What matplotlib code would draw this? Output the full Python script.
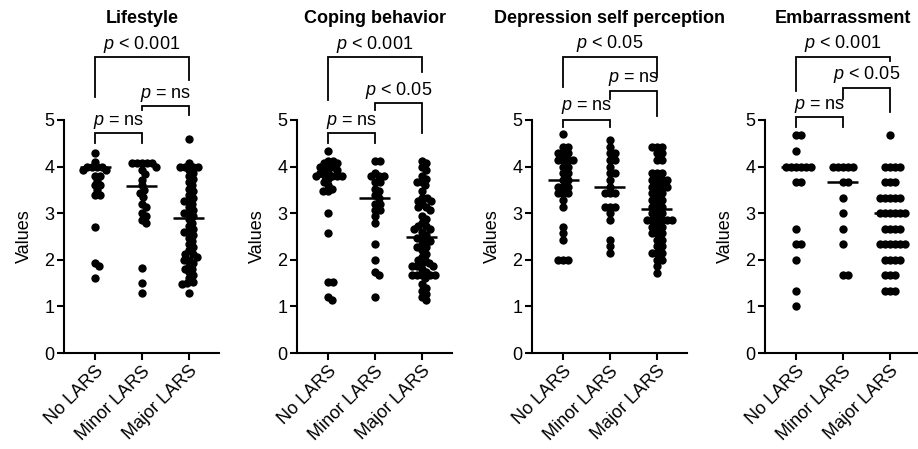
import matplotlib
matplotlib.use('Agg')
import matplotlib.pyplot as plt
import numpy as np

plt.rcParams['font.family'] = ['Liberation Sans', 'DejaVu Sans']
plt.rcParams['mathtext.fontset'] = 'custom'
plt.rcParams['mathtext.rm'] = 'Liberation Sans'
plt.rcParams['mathtext.it'] = 'Liberation Sans:italic'

groups = ['No LARS', 'Minor LARS', 'Major LARS']
titles = ['Lifestyle', 'Coping behavior', 'Depression self perception', 'Embarrassment']

# values
lifestyleNo = [4.3, 4.1, 4.0, 4.0, 4.0, 4.0, 3.93, 3.93, 3.8, 3.8, 3.7, 3.6, 3.6, 3.5, 3.4, 3.4,
               2.7, 1.93, 1.87, 1.6]
lifestyleMinor = [4.07, 4.07, 4.07, 4.07, 4.07, 4.0, 3.93, 3.85, 3.71, 3.6, 3.5, 3.43, 3.35, 3.2,
                  3.13, 3.0, 2.93, 2.85, 2.78, 1.82, 1.5, 1.29]
lifestyleMajor = [4.6, 4.07, 4.0, 4.0, 4.0, 4.0, 3.93, 3.87, 3.8, 3.73, 3.67, 3.6, 3.53, 3.47, 3.4,
                  3.33, 3.27, 3.27, 3.2, 3.13, 3.07, 3.0, 3.0, 2.93, 2.87, 2.8, 2.73, 2.67, 2.6,
                  2.6, 2.53, 2.47, 2.4, 2.33, 2.27, 2.2, 2.13, 2.13, 2.07, 2.0, 2.0, 1.93, 1.87,
                  1.8, 1.8, 1.73, 1.67, 1.6, 1.53, 1.5, 1.47, 1.29]

copingNo = [4.33, 4.13, 4.13, 4.07, 4.07, 4.0, 4.0, 4.0, 3.93, 3.93, 3.87, 3.87, 3.8, 3.8, 3.8,
            3.8, 3.8, 3.73, 3.67, 3.6, 3.53, 3.47, 3.47, 3.0, 2.57, 1.53, 1.53, 1.2, 1.13]
copingMinor = [4.13, 4.13, 3.87, 3.8, 3.8, 3.8, 3.67, 3.67, 3.53, 3.47, 3.4, 3.33, 3.2, 3.2, 3.07,
               3.07, 2.93, 2.8, 2.33, 2.0, 1.73, 1.67, 1.2]
copingMajor = [4.13, 4.07, 4.0, 3.93, 3.8, 3.73, 3.67, 3.67, 3.6, 3.47, 3.33, 3.33, 3.27, 3.27,
               3.2, 3.13, 3.13, 3.07, 2.93, 2.87, 2.8, 2.73, 2.73, 2.67, 2.67, 2.6, 2.53, 2.47,
               2.47, 2.4, 2.4, 2.33, 2.27, 2.27, 2.2, 2.13, 2.07, 2.0, 2.0, 1.93, 1.93, 1.87,
               1.87, 1.87, 1.8, 1.73, 1.67, 1.67, 1.67, 1.67, 1.67, 1.6, 1.47, 1.4, 1.33, 1.27,
               1.2, 1.13]

depressionNo = [4.71, 4.43, 4.43, 4.29, 4.29, 4.29, 4.14, 4.14, 4.14, 4.14, 4.0, 4.0, 3.86, 3.86,
                3.71, 3.71, 3.57, 3.57, 3.57, 3.43, 3.43, 3.43, 3.29, 3.14, 2.71, 2.57, 2.43,
                2.0, 2.0, 2.0]
depressionMinor = [4.57, 4.43, 4.29, 4.29, 4.14, 4.14, 4.0, 3.86, 3.86, 3.71, 3.57, 3.43, 3.43,
                   3.43, 3.14, 3.14, 3.14, 3.0, 2.86, 2.43, 2.29, 2.14]
depressionMajor = [4.43, 4.43, 4.43, 4.29, 4.29, 4.14, 4.14, 3.86, 3.86, 3.86, 3.71, 3.71, 3.71,
                   3.71, 3.57, 3.57, 3.57, 3.57, 3.43, 3.43, 3.43, 3.29, 3.29, 3.29, 3.14, 3.14,
                   3.14, 3.0, 3.0, 3.0, 2.86, 2.86, 2.86, 2.86, 2.86, 2.86, 2.71, 2.71, 2.71,
                   2.57, 2.57, 2.57, 2.43, 2.43, 2.29, 2.29, 2.14, 2.14, 2.14, 2.0, 2.0, 1.86, 1.71]

embarrassNo = [4.67, 4.67, 4.33, 4.0, 4.0, 4.0, 4.0, 4.0, 4.0, 3.67, 3.67, 2.67, 2.33, 2.33, 2.0,
               1.33, 1.0]
embarrassMinor = [4.0, 4.0, 4.0, 4.0, 4.0, 3.67, 3.67, 3.33, 3.0, 2.67, 2.33, 1.67, 1.67]
embarrassMajor = [4.67, 4.0, 4.0, 4.0, 4.0, 3.67, 3.67, 3.67, 3.33, 3.33, 3.33, 3.33, 3.33, 3.0,
                  3.0, 3.0, 3.0, 3.0, 3.0, 2.67, 2.67, 2.67, 2.67, 2.33, 2.33, 2.33, 2.33, 2.33,
                  2.33, 2.0, 2.0, 2.0, 2.0, 1.67, 1.67, 1.67, 1.33, 1.33, 1.33]

panelData = [
	[lifestyleNo, lifestyleMinor, lifestyleMajor],
	[copingNo, copingMinor, copingMajor],
	[depressionNo, depressionMinor, depressionMajor],
	[embarrassNo, embarrassMinor, embarrassMajor],
]
panelMedians = [
	[4.0, 3.58, 2.9],
	[3.8, 3.33, 2.5],
	[3.71, 3.57, 3.08],
	[4.0, 3.67, 3.0],
]

# p labels for (No vs Major), (Minor vs Major), (No vs Minor)
pLabels = [
	['$p$ < 0.001', '$p$ = ns', '$p$ = ns'],
	['$p$ < 0.001', '$p$ < 0.05', '$p$ = ns'],
	['$p$ < 0.05', '$p$ = ns', '$p$ = ns'],
	['$p$ < 0.001', '$p$ < 0.05', '$p$ = ns'],
]

# bracket geometry: x1, x2, bar height, left leg end, right leg end, text height
bracketGeom = [
	[(0, 2, 6.35, 5.49, 5.86, 6.63), (1, 2, 5.30, 5.21, 5.11, 5.54), (0, 1, 4.72, 4.50, 4.50, 4.96)],
	[(0, 2, 6.35, 5.43, 6.03, 6.63), (1, 2, 5.36, 5.21, 4.72, 5.64), (0, 1, 4.72, 4.50, 4.50, 4.96)],
	[(0, 2, 6.36, 5.71, 5.93, 6.65), (1, 2, 5.63, 5.45, 5.09, 5.89), (0, 1, 5.00, 4.85, 4.85, 5.28)],
	[(0, 2, 6.36, 5.63, 6.26, 6.65), (1, 2, 5.69, 5.45, 5.17, 5.97), (0, 1, 5.06, 4.85, 4.85, 5.30)],
]

figW, figH = 918, 449
axLeftPx = [64, 297, 532, 765]
axWidthPx = 155
axBottomPx = 353
axHeightPx = 233
xLim = (-0.66, 2.64)
fontSize = 13


def swarmOffsets(yPix, minDist):
	order = np.argsort(-np.asarray(yPix), kind='stable')
	placed = []
	offsets = np.zeros(len(yPix))
	for i in order:
		y = yPix[i]
		candidates = [0.0]
		for px, py in placed:
			dy = abs(py - y)
			if dy < minDist:
				dx = np.sqrt(minDist ** 2 - dy ** 2)
				candidates += [px + dx, px - dx]
		candidates.sort(key=abs)
		chosen = candidates[-1]
		for c in candidates:
			if all((c - px) ** 2 + (y - py) ** 2 >= minDist ** 2 - 1e-6 for px, py in placed):
				chosen = c
				break
		offsets[i] = chosen
		placed.append((chosen, y))
	return offsets


def main():
	fig = plt.figure(figsize=(figW / 100, figH / 100), dpi=100)
	pxPerX = axWidthPx / (xLim[1] - xLim[0])
	pxPerY = axHeightPx / 5.0

	for k in range(4):
		ax = fig.add_axes([axLeftPx[k] / figW, (figH - axBottomPx) / figH,
						   axWidthPx / figW, axHeightPx / figH])
		ax.set_xlim(*xLim)
		ax.set_ylim(0, 5)
		for side in ['top', 'right']:
			ax.spines[side].set_visible(False)
		for side in ['left', 'bottom']:
			ax.spines[side].set_linewidth(1.5)

		for g, values in enumerate(panelData[k]):
			vals = np.asarray(values)
			offs = swarmOffsets(vals * pxPerY, 5.0) / pxPerX
			ax.scatter(g + offs, vals, s=36, color='black', linewidths=0, zorder=3, clip_on=False)
			ax.hlines(panelMedians[k][g], g - 0.33, g + 0.33, color='black', lw=1.8, zorder=4)

		for (x1, x2, yBar, yL, yR, yText), label in zip(bracketGeom[k], pLabels[k]):
			ax.plot([x1, x1, x2, x2], [yL, yBar, yBar, yR], color='black', lw=1.3,
					clip_on=False, solid_joinstyle='miter')
			ax.text((x1 + x2) / 2, yText, label, ha='center', va='center',
					fontsize=fontSize, clip_on=False)

		ax.text(1, 7.18, titles[k], ha='center', va='center', fontsize=fontSize,
				fontweight='bold', clip_on=False)

		ax.set_yticks([0, 1, 2, 3, 4, 5])
		ax.set_xticks([0, 1, 2])
		ax.set_xticklabels(groups, rotation=45, ha='right', rotation_mode='anchor')
		ax.tick_params(axis='both', length=5, width=1.5, labelsize=fontSize, pad=2)
		ax.set_ylabel('Values', fontsize=fontSize, labelpad=8)

	fig.savefig('out.png', dpi=100, facecolor='white')


main()
